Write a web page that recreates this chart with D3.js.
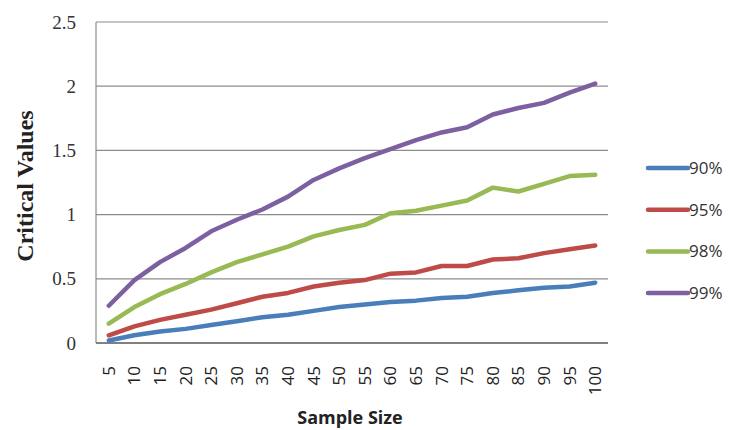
<!DOCTYPE html>
<html><head><meta charset="utf-8">
<script src="https://cdn.jsdelivr.net/npm/d3@7/dist/d3.min.js"></script>
<style>body{margin:0;background:#fff}svg{display:block}</style>
</head><body><svg id="c" width="730" height="430"></svg>
<script>
const categories = [5,10,15,20,25,30,35,40,45,50,55,60,65,70,75,80,85,90,95,100];
const s90 = [0.02,0.06,0.09,0.11,0.14,0.17,0.20,0.22,0.25,0.28,0.30,0.32,0.33,0.35,0.36,0.39,0.41,0.43,0.44,0.47];
const s95 = [0.06,0.13,0.18,0.22,0.26,0.31,0.36,0.39,0.44,0.47,0.49,0.54,0.55,0.60,0.60,0.65,0.66,0.70,0.73,0.76];
const s98 = [0.15,0.28,0.38,0.46,0.55,0.63,0.69,0.75,0.83,0.88,0.92,1.01,1.03,1.07,1.11,1.21,1.18,1.24,1.30,1.31];
const s99 = [0.29,0.49,0.63,0.74,0.87,0.96,1.04,1.14,1.27,1.36,1.44,1.51,1.58,1.64,1.68,1.78,1.83,1.87,1.95,2.02];
const seriesNames = ["90%","95%","98%","99%"];
const yTicks = [0,0.5,1,1.5,2,2.5];
const colors = ["#4a7ebb","#be4b48","#98b954","#7d60a0"];
const series = [s90,s95,s98,s99];

const svg = d3.select("#c");
const L=96, R=608, T=22, B=343;
const x = d3.scaleBand().domain(categories).range([L,R]);
const y = d3.scaleLinear().domain([0,2.5]).range([B,T]);

// gridlines
svg.append("g").selectAll("line").data(yTicks.filter(d=>d>0)).join("line")
  .attr("x1",L).attr("x2",R).attr("y1",d=>y(d)).attr("y2",d=>y(d))
  .attr("stroke","#8c8c8c").attr("stroke-width",1.2);
// left axis
svg.append("line").attr("x1",L).attr("x2",L).attr("y1",T).attr("y2",B)
  .attr("stroke","#8c8c8c").attr("stroke-width",1.2);
// bottom axis
svg.append("line").attr("x1",L).attr("x2",R).attr("y1",B).attr("y2",B)
  .attr("stroke","#808080").attr("stroke-width",2.2);

// y labels
svg.append("g").selectAll("text").data(yTicks).join("text")
  .attr("x",76).attr("y",d=>y(d)).attr("dy","0.35em").attr("text-anchor","end")
  .attr("font-family","Liberation Serif, serif").attr("font-size",19).attr("fill","#333")
  .text(d=>d);
// x labels
svg.append("g").selectAll("text").data(categories).join("text")
  .attr("transform",d=>`translate(${x(d)+x.bandwidth()/2},366) rotate(-90)`)
  .attr("dy","0.35em").attr("text-anchor","end")
  .attr("font-family","Open Sans, sans-serif").attr("font-size",17).attr("fill","#222")
  .text(d=>d);

// lines
const line = d3.line().x((d,i)=>x(categories[i])+x.bandwidth()/2).y(d=>y(d));
svg.append("g").selectAll("path").data(series).join("path")
  .attr("d",line).attr("fill","none").attr("stroke",(d,i)=>colors[i])
  .attr("stroke-width",4.5).attr("stroke-linejoin","round").attr("stroke-linecap","round");

// axis titles
svg.append("text").attr("x",350).attr("y",424).attr("text-anchor","middle")
  .attr("font-family","Open Sans, sans-serif").attr("font-weight","bold").attr("font-size",18).attr("fill","#222")
  .text("Sample Size");
svg.append("text").attr("transform","translate(33,186) rotate(-90)").attr("text-anchor","middle")
  .attr("font-family","Liberation Serif, serif").attr("font-weight","bold").attr("font-size",24).attr("fill","#222")
  .text("Critical Values");

// legend
const lg = svg.append("g").selectAll("g").data(seriesNames).join("g")
  .attr("transform",(d,i)=>`translate(648,${168+i*41.7})`);
lg.append("line").attr("x1",0).attr("x2",40).attr("stroke",(d,i)=>colors[i])
  .attr("stroke-width",4.5).attr("stroke-linecap","round");
lg.append("text").attr("x",41).attr("dy","0.35em")
  .attr("font-family","Open Sans, sans-serif").attr("font-size",17).attr("fill","#333")
  .text(d=>d);
</script></body></html>
